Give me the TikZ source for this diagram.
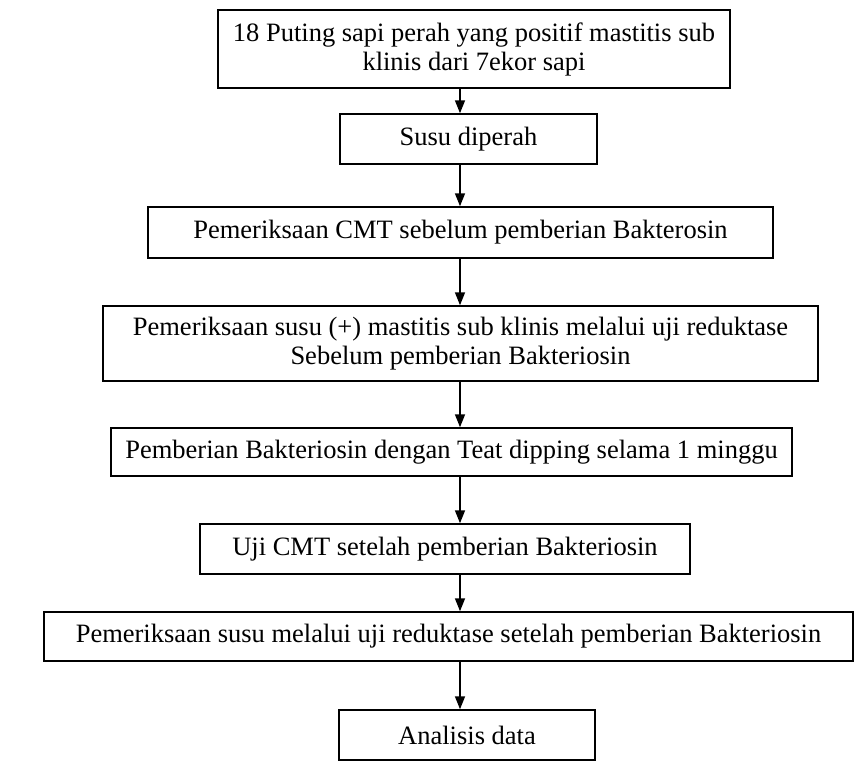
\documentclass[tikz,border=0pt]{standalone}
\usepackage{fontspec}
\setmainfont{Liberation Serif}
\usetikzlibrary{arrows.meta}
\begin{document}
\begin{tikzpicture}[x=1pt,y=-1pt,
  box/.style={draw, line width=1.5pt, inner sep=0pt, align=center,
    font=\fontsize{26.5}{29}\selectfont},
  arr/.style={-{Triangle[length=13pt,width=10pt]}, line width=1.6pt}]
\useasboundingbox (0,0) rectangle (865,777);
\node[box, minimum width=512pt, minimum height=78pt] (b1) at (474,49)
  {18 Puting sapi perah yang positif mastitis sub\\klinis dari 7ekor sapi};
\node[box, minimum width=257pt, minimum height=50pt] (b2) at (468.5,139)
  {Susu diperah};
\node[box, minimum width=625pt, minimum height=51pt] (b3) at (460.5,232.5)
  {Pemeriksaan CMT sebelum pemberian Bakterosin};
\node[box, minimum width=715pt, minimum height=75pt] (b4) at (460.5,343.5)
  {Pemeriksaan susu (+) mastitis sub klinis melalui uji reduktase\\Sebelum pemberian Bakteriosin};
\node[box, minimum width=681pt, minimum height=48pt] (b5) at (451.5,452)
  {Pemberian Bakteriosin dengan Teat dipping selama 1 minggu};
\node[box, minimum width=490pt, minimum height=50pt] (b6) at (445,549)
  {Uji CMT setelah pemberian Bakteriosin};
\node[box, minimum width=809pt, minimum height=49pt] (b7) at (448.5,636.5)
  {Pemeriksaan susu melalui uji reduktase setelah pemberian Bakteriosin};
\node[box, minimum width=256pt, minimum height=50pt] (b8) at (467,735)
  {Analisis data};
\coordinate (ax) at (460,0);
\draw[arr] (b1.south -| ax) -- (b2.north -| ax);
\draw[arr] (b2.south -| ax) -- (b3.north -| ax);
\draw[arr] (b3.south -| ax) -- (b4.north -| ax);
\draw[arr] (b4.south -| ax) -- (b5.north -| ax);
\draw[arr] (b5.south -| ax) -- (b6.north -| ax);
\draw[arr] (b6.south -| ax) -- (b7.north -| ax);
\draw[arr] (b7.south -| ax) -- (b8.north -| ax);
\end{tikzpicture}
\end{document}
